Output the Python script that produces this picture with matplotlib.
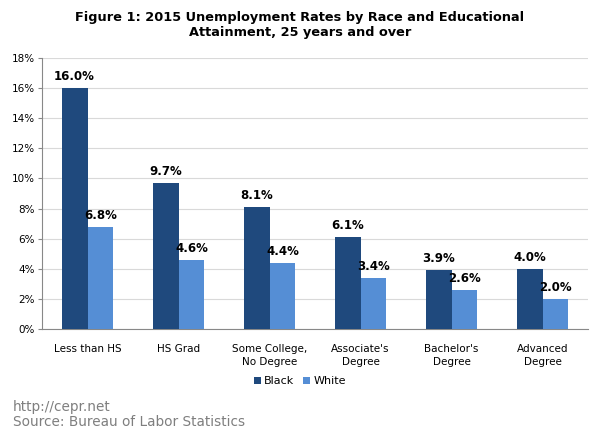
import matplotlib
matplotlib.use("Agg")
import matplotlib.pyplot as plt
import numpy as np

categories = ["Less than HS", "HS Grad", "Some College,\nNo Degree", "Associate's\nDegree", "Bachelor's\nDegree", "Advanced\nDegree"]
black = [16.0, 9.7, 8.1, 6.1, 3.9, 4.0]
white = [6.8, 4.6, 4.4, 3.4, 2.6, 2.0]
yticks = [0, 2, 4, 6, 8, 10, 12, 14, 16, 18]

c_black = "#1F497D"
c_white = "#558ED5"

fig = plt.figure(figsize=(6, 4.36), dpi=100)
ax = fig.add_axes([0.07, 0.2454, 0.91, 0.6216])

x = np.arange(len(categories))
w = 0.285
b1 = ax.bar(x - w/2, black, w, color=c_black, label="Black", zorder=3)
b2 = ax.bar(x + w/2, white, w, color=c_white, label="White", zorder=3)

for bars, vals in ((b1, black), (b2, white)):
    for r, v in zip(bars, vals):
        ax.annotate(f"{v:.1f}%", (r.get_x() + r.get_width()/2, v), xytext=(0, 3.5),
                    textcoords="offset points", ha="center", va="bottom",
                    fontsize=8.5, fontweight="bold", color="black")

ax.set_xlim(-0.5, len(categories) - 0.5)
ax.set_ylim(0, 18)
ax.set_yticks(yticks)
ax.set_yticklabels([f"{t}%" for t in yticks], fontsize=7.5)
ax.set_xticks(x)
ax.set_xticklabels(categories, fontsize=7.5, linespacing=1.35)
ax.tick_params(axis="x", length=0, pad=11)
ax.tick_params(axis="y", length=3, color="#888888", pad=2)
ax.grid(axis="y", color="#D9D9D9", linewidth=0.8, zorder=0)
for s in ["top", "right"]:
    ax.spines[s].set_visible(False)
ax.spines["left"].set_color("#888888")
ax.spines["bottom"].set_color("#888888")

fig.text(0.5, 0.975, "Figure 1: 2015 Unemployment Rates by Race and Educational\nAttainment, 25 years and over",
         ha="center", va="top", fontsize=9.3, fontweight="bold", linespacing=1.2)

fig.legend(handles=[b1, b2], labels=["Black", "White"], loc="center", bbox_to_anchor=(0.5, 0.126),
           ncol=2, frameon=False, fontsize=8, handlelength=0.6, handleheight=0.6,
           handletextpad=0.3, columnspacing=0.8)

fig.text(0.022, 0.066, "http://cepr.net", fontsize=9.8, color="#7F7F7F", va="center")
fig.text(0.022, 0.031, "Source: Bureau of Labor Statistics", fontsize=9.8, color="#7F7F7F", va="center")

fig.savefig("out.png", dpi=100)
